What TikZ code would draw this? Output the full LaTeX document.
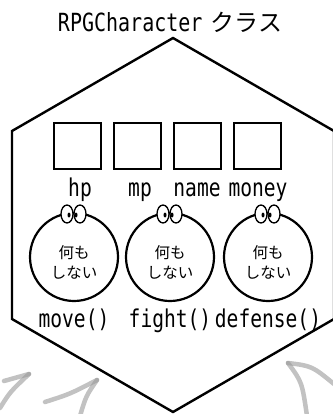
\documentclass[tikz,border=0pt]{standalone}
\usepackage{fontspec}
\setmainfont[FakeStretch=0.8]{DejaVu Sans Mono}
\newfontfamily\jp{Noto Sans CJK JP}
\usetikzlibrary{shapes.geometric}
\begin{document}
\begin{tikzpicture}[x=1pt, y=-1pt,
  outline/.style={draw, line width=2.4pt, line join=miter},
  slot/.style={draw, line width=2.2pt, minimum width=47pt, minimum height=46pt, inner sep=0pt},
  method/.style={draw, circle, line width=2.2pt, minimum size=88pt, inner sep=0pt},
  eye/.style={draw, fill=white, ellipse, line width=1.3pt, minimum width=12pt, minimum height=18pt, inner sep=0pt},
  pupil/.style={fill=black, ellipse, minimum width=3pt, minimum height=5pt, inner sep=0pt},
  fieldname/.style={anchor=base, inner sep=0pt, font=\fontsize{24.5}{26}\selectfont},
  says/.style={align=center, inner sep=0pt, font=\jp\fontsize{15.5}{20}\selectfont},
  pencil/.style={draw=black!40, line width=4.5pt, line cap=round, opacity=0.6}]
\useasboundingbox (0,0) rectangle (332,414);

% class outline
\draw[outline] (173,38) -- (12,131) -- (12,319) -- (173,412) -- (334,319) -- (334,131) -- cycle;

% title
\node[anchor=base, inner sep=0pt, font=\fontsize{25}{28}\selectfont] (title) at (170,32) {RPGCharacter\hspace{8pt}{\jp\fontsize{24}{28}\selectfont クラス}};

% fields
\node[slot] (f1) at (77.5,146) {};
\node[slot] (f2) at (137.5,146) {};
\node[slot] (f3) at (197.5,146) {};
\node[slot] (f4) at (257.5,146) {};
\node[fieldname] (n1) at (80,196) {hp};
\node[fieldname] (n2) at (140,196) {mp};
\node[fieldname] (n3) at (197,196) {name};
\node[fieldname] (n4) at (258,196) {money};

% methods
\foreach \i/\x/\name in {1/74/move(), 2/170/fight(), 3/268/defense()} {
  \node[method] (m\i) at (\x,257) {};
  \node[says] (t\i) at ([shift={(0,5)}]m\i.center) {何も\\しない};
  \node[eye] (el\i) at ([shift={(-7,-43)}]m\i.center) {};
  \node[eye] (er\i) at ([shift={(6,-43)}]m\i.center) {};
  \node[pupil] (pl\i) at ([shift={(-5,-42)}]m\i.center) {};
  \node[pupil] (pr\i) at ([shift={(2,-42)}]m\i.center) {};
  \node[fieldname] (l\i) at (\x,327) {\name};
}

% sketched arrows pointing at the class
\coordinate (a1) at (29,374);
\coordinate (a2) at (97,380);
\coordinate (a3) at (288,363);
\draw[pencil] (4,381) -- (a1);
\draw[pencil] (0,408) .. controls (10,392) .. (a1);
\draw[pencil] (45,402) .. controls (70,394) .. (a2);
\draw[pencil] (80,416) .. controls (86,396) .. (a2);
\draw[pencil] (a3) .. controls (312,366) .. (334,384);
\draw[pencil] (a3) .. controls (302,382) .. (307,416);
\end{tikzpicture}
\end{document}
